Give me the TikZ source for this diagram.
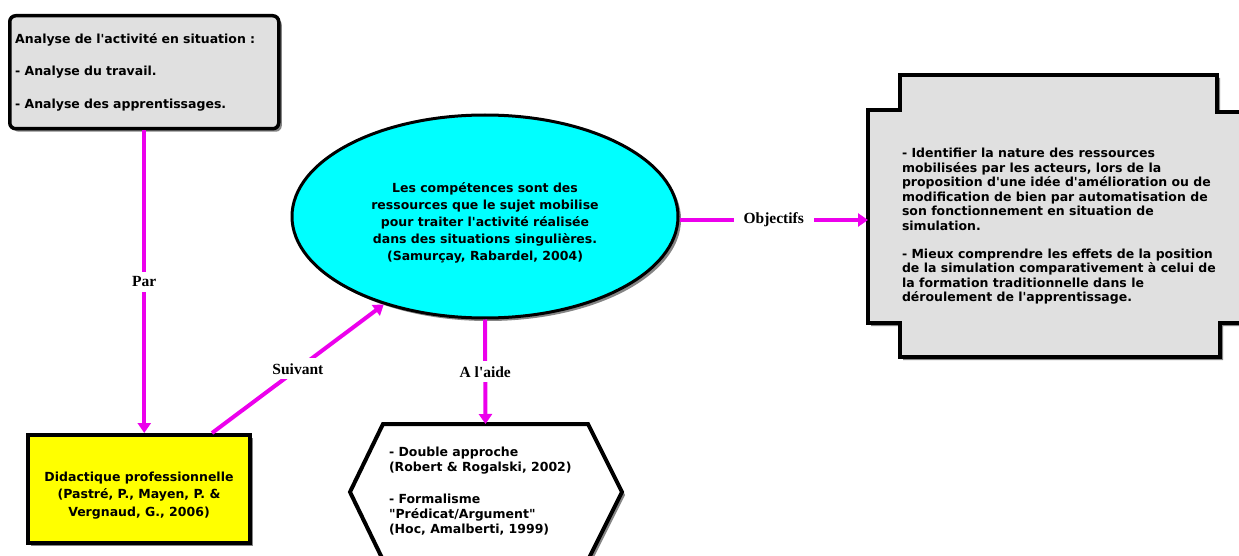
\documentclass[tikz,border=0pt]{standalone}
\usepackage{fontspec}
\setmainfont{DejaVu Sans}[Ligatures=TeXOff]
\newfontfamily\lblfont{Liberation Serif}
\usetikzlibrary{arrows.meta,shapes.geometric,shadows,calc}
\definecolor{mag}{RGB}{236,0,236}
\definecolor{boxgray}{RGB}{224,224,224}
\definecolor{cyanfill}{RGB}{0,255,255}
\definecolor{yel}{RGB}{255,255,0}
\begin{document}
\begin{tikzpicture}[x=1pt,y=-1pt,
  shad/.style={drop shadow={shadow xshift=3pt,shadow yshift=-3pt,fill=black!60,opacity=0.8}},
  conn/.style={draw=mag,line width=4pt,-{Triangle[length=10pt,width=13pt]}},
  lbl/.style={fill=white,font=\lblfont\bfseries\fontsize{15.5}{17}\selectfont,inner xsep=10pt,inner ysep=5pt,text=black},
  txt/.style={font=\bfseries\fontsize{12.5}{14.5}\selectfont},
  ghost/.style={inner sep=0pt,outer sep=0pt}
]
\useasboundingbox (0,0) rectangle (1239,556);

% right notched box
\filldraw[shad,fill=boxgray,draw=black,line width=4pt,line join=miter]
  (900,75) -- (1217,75) -- (1217,112) -- (1270,112) -- (1270,323) -- (1220,323)
  -- (1220,357) -- (900,357) -- (900,323) -- (868,323) -- (868,110) -- (900,110) -- cycle;
\node[ghost,minimum width=400pt,minimum height=213pt,anchor=north west] (R) at (868,110) {};
\node[txt,ghost,anchor=north west,align=left] (RT) at (902,148.5)
  {- Identifier la nature des ressources\\mobilisées par les acteurs, lors de la\\proposition d'une idée d'amélioration ou de\\modification de bien par automatisation de\\son fonctionnement en situation de\\simulation.\\[13.5pt]- Mieux comprendre les effets de la position\\de la simulation comparativement à celui de\\la formation traditionnelle dans le\\déroulement de l'apprentissage.};

% hexagon
\filldraw[shad,fill=white,draw=black,line width=4pt,line join=miter]
  (383,424) -- (588,424) -- (622,492) -- (588,560) -- (383,560) -- (350,492) -- cycle;
\node[ghost,minimum width=205pt,minimum height=136pt,anchor=north west] (H) at (383,424) {};
\node[ghost,anchor=north west,align=left,font=\bfseries\fontsize{12.5}{15}\selectfont] (HT) at (389,447)
  {- Double approche\\(Robert \& Rogalski, 2002)\\[17pt]- Formalisme\\"Prédicat/Argument"\\(Hoc, Amalberti, 1999)};

% top-left box
\node[draw,shad,fill=boxgray,line width=3.5pt,rounded corners=6pt,minimum width=269pt,minimum height=113pt,
  anchor=north west,inner xsep=5pt,text width=258pt,align=left,txt] (A) at (8,14)
  {Analyse de l'activité en situation :\\[18pt]- Analyse du travail.\\[18pt]- Analyse des apprentissages.};

% ellipse
\node[ellipse,draw,shad,fill=cyanfill,line width=3pt,minimum width=386pt,minimum height=203pt] (E) at (485,216.5) {};
\node[ghost,align=center,font=\bfseries\fontsize{12.5}{17}\selectfont] (ET) at (485,223)
  {Les compétences sont des\\ressources que le sujet mobilise\\pour traiter l'activité réalisée\\dans des situations singulières.\\(Samurçay, Rabardel, 2004)};

% yellow box
\node[draw,shad,fill=yel,line width=4pt,minimum width=222pt,minimum height=108pt] (Y) at (139,489) {};
\node[ghost,align=center,font=\bfseries\fontsize{12.5}{17.5}\selectfont] (YT) at (139,495.5)
  {Didactique professionnelle\\(Pastré, P., Mayen, P. \&\\Vergnaud, G., 2006)};

% connectors
\draw[conn] (A.south) -- (A.south |- Y.north) node[midway,lbl] {Par};
\draw[conn] (212,0 |- Y.north) -- (E.221) node[midway,lbl] {Suivant};
\draw[conn] (E.east |- 0,220) -- (R.west |- 0,220) node[midway,lbl] {Objectifs};
\draw[conn] (E.south) -- (H.north) node[midway,lbl] {A l'aide};
\end{tikzpicture}
\end{document}
